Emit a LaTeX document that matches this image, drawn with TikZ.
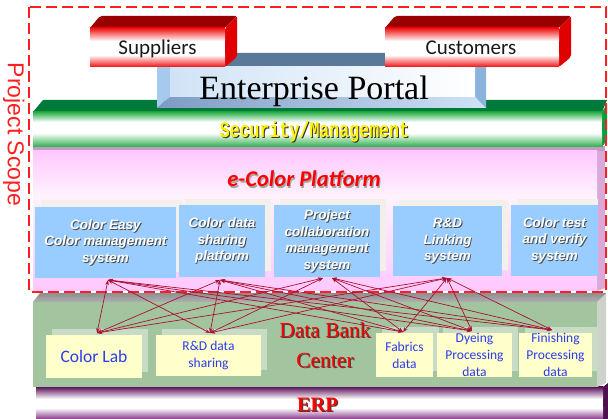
\documentclass[tikz,border=0pt]{standalone}
\usepackage{fontspec}
\usepackage{graphicx}
\usetikzlibrary{arrows.meta}
\newfontfamily\carlito{Carlito}
\newfontfamily\lserif{Liberation Serif}
\newfontfamily\lmono{Liberation Mono}
\newfontfamily\lsans{Liberation Sans}

\definecolor{scopered}{HTML}{FF1F1F}
\definecolor{boxred}{HTML}{F01010}
\definecolor{boxredtop}{HTML}{990000}
\definecolor{boxredside}{HTML}{E00000}
\definecolor{portaltop}{HTML}{5A7898}
\definecolor{portalleft}{HTML}{A6C9EE}
\definecolor{portalright}{HTML}{8AB3DE}
\definecolor{portalbottom}{HTML}{7D9BC3}
\definecolor{portalface}{HTML}{D0E3F7}
\definecolor{greentop}{HTML}{007A3A}
\definecolor{greenface}{HTML}{2AAE48}
\definecolor{greenside}{HTML}{00A040}
\definecolor{pinkface}{HTML}{FFC8FF}
\definecolor{pinklight}{HTML}{FFF2FD}
\definecolor{pinkband}{HTML}{C49AC4}
\definecolor{pinkside}{HTML}{D9AAD9}
\definecolor{appblue}{HTML}{99CCFF}
\definecolor{appback}{HTML}{F3EFEA}
\definecolor{bankgreen}{HTML}{A2C59F}
\definecolor{banktop}{HTML}{8E8E8E}
\definecolor{bankside}{HTML}{CDD3CB}
\definecolor{datayellow}{HTML}{FFFFCC}
\definecolor{databack}{HTML}{C8DBC5}
\definecolor{datablue}{HTML}{2B3BF0}
\definecolor{linkred}{HTML}{A8122E}
\definecolor{erpdark}{HTML}{5E145E}
\definecolor{erpface}{HTML}{8A3A8A}
\definecolor{erpside}{HTML}{4D0F4D}

\begin{document}
\begin{tikzpicture}[x=1pt,y=-1pt,
  link/.style={draw=linkred, line width=0.7pt,
    {Stealth[length=5pt,width=3.6pt]}-{Stealth[length=5pt,width=3.6pt]}},
  appbox/.style={fill=appblue, inner sep=0pt},
  apptext/.style={font=\lsans\bfseries\itshape\fontsize{13.5}{16.5}\selectfont,
    align=center, text=white, inner sep=0pt},
  appshade/.style={apptext, text=black!70, xshift=0.9pt, yshift=-0.9pt},
  databox/.style={fill=datayellow, inner sep=0pt, text=datablue, align=center,
    font=\carlito\fontsize{13.5}{17}\selectfont},
  redlabel/.style={anchor=base, text=black!90, font=\carlito\fontsize{21}{21}\selectfont},
]
\useasboundingbox (0,0) rectangle (608,419);
\fill[white] (0,0) rectangle (608,419);

% ---------- ERP layer ----------
\fill[erpside] (603,387) -- (608,383) -- (608,419) -- (603,419) -- cycle;
\fill[white] (36,387) rectangle (603,419);
\shade[top color=erpdark, bottom color=white] (36,387) rectangle (603,399);
\shade[top color=white, bottom color=erpface] (36,408) rectangle (603,419);

% ---------- Data bank layer ----------
\fill[bankside] (597,302) -- (606,293) -- (606,383) -- (597,387) -- cycle;
\shade[top color=banktop, bottom color=banktop!70] (33,302) -- (40,293) -- (606,293) -- (597,302) -- cycle;
\fill[bankgreen] (33,302) rectangle (597,387);

% data stores
\fill[databack] (52,329) rectangle (148,372);
\fill[databack] (162,329) rectangle (267,370);
\fill[databack] (382,327) rectangle (439,371);
\fill[databack] (443,327) rectangle (518,371);
\fill[databack] (525,327) rectangle (598,371);
\node[databox, minimum width=96pt, minimum height=43pt,
  font=\carlito\fontsize{17.5}{17.5}\selectfont] (lab) at (94,356.5) {Color Lab};
\node[databox, minimum width=105pt, minimum height=41pt] (rdshare) at (208.5,355.5) {R\&D data\\sharing};
\node[databox, minimum width=57pt, minimum height=44pt] (fabrics) at (404.5,355) {Fabrics\\data};
\node[databox, minimum width=75pt, minimum height=44pt] (dyeing) at (474.5,355) {Dyeing\\Processing\\data};
\node[databox, minimum width=73pt, minimum height=44pt] (finishing) at (555.5,355) {Finishing\\Processing\\data};

\node[align=center, text=black!75, font=\lserif\fontsize{21.5}{29.5}\selectfont,
  xshift=1pt, yshift=-1pt] (bank-shade) at (325,345) {Data Bank\\Center};
\node[align=center, text=red, font=\lserif\fontsize{21.5}{29.5}\selectfont] (bank) at (325,345) {Data Bank\\Center};

% ---------- e-Color platform layer ----------
\fill[pinkside] (597,151) -- (605,146) -- (605,288) -- (597,291) -- cycle;
\fill[pinkband] (33,146) rectangle (605,151);
\shade[top color=pinkface, bottom color=pinklight] (33,151) rectangle (597,196);
\shade[top color=pinklight, bottom color=pinkface] (33,196) rectangle (597,291);

\node[anchor=base, text=black!35, font=\carlito\bfseries\itshape\fontsize{22.5}{22.5}\selectfont,
  xshift=1.2pt, yshift=-1.2pt] (platform-shade) at (304,187) {e-Color Platform};
\node[anchor=base, text=red, font=\carlito\bfseries\itshape\fontsize{22.5}{22.5}\selectfont]
  (platform) at (304,187) {e-Color Platform};

% application systems
\fill[appback] (41,200) rectangle (182,272);
\fill[appback] (185,199) rectangle (271,271);
\fill[appback] (280,199) rectangle (386,271);
\fill[appback] (399,200) rectangle (508,270);
\fill[appback] (517,199) rectangle (598,270);
\node[appbox, minimum width=141pt, minimum height=71pt] (app1) at (105.5,242.5) {};
\node[appbox, minimum width=86pt, minimum height=72pt] (app2) at (222,241) {};
\node[appbox, minimum width=106pt, minimum height=72pt] (app3) at (327,241) {};
\node[appbox, minimum width=109pt, minimum height=70pt] (app4) at (447.5,241) {};
\node[appbox, minimum width=87pt, minimum height=71pt] (app5) at (554.5,240.5) {};

\node[appshade] (app1-shade) at (app1) {Color Easy\\Color management\\system};
\node[apptext] (app1-text) at (app1) {Color Easy\\Color management\\system};
\node[appshade] (app2-shade) at (app2) {Color data\\sharing\\platform};
\node[apptext] (app2-text) at (app2) {Color data\\sharing\\platform};
\node[appshade] (app3-shade) at (app3) {Project\\collaboration\\management\\system};
\node[apptext] (app3-text) at (app3) {Project\\collaboration\\management\\system};
\node[appshade] (app4-shade) at (app4) {R\&D\\Linking\\system};
\node[apptext] (app4-text) at (app4) {R\&D\\Linking\\system};
\node[appshade] (app5-shade) at (app5) {Color test\\and verify\\system};
\node[apptext] (app5-text) at (app5) {Color test\\and verify\\system};

% ---------- Security / management layer ----------
\fill[greenside] (602,112) -- (607,104) -- (607,140) -- (602,147) -- cycle;
\fill[greentop] (33,112) -- (43,100) -- (607,100) -- (602,112) -- cycle;
\fill[white] (33,112) rectangle (602,147);
\shade[top color=greenface, bottom color=white] (33,112) rectangle (602,122);
\shade[top color=white, bottom color=greenface] (33,133) rectangle (602,147);
\node[anchor=base, text=black!80, font=\lmono\bfseries\fontsize{16.6}{16.6}\selectfont,
  xshift=1pt, yshift=-1pt] (security-shade) at (314.5,138) {\scalebox{1}[1.35]{Security/Management}};
\node[anchor=base, text=yellow, font=\lmono\bfseries\fontsize{16.6}{16.6}\selectfont]
  (security) at (314.5,138) {\scalebox{1}[1.35]{Security/Management}};

% ---------- Enterprise portal ----------
\fill[portaltop] (157,53) -- (486,53) -- (475,67) -- (170,67) -- cycle;
\fill[portalleft] (157,53) -- (170,67) -- (170,97) -- (157,108) -- cycle;
\fill[portalright] (486,53) -- (486,108) -- (475,97) -- (475,67) -- cycle;
\shade[left color=portalbottom, right color=portalface] (157,108) -- (170,97) -- (475,97) -- (486,108) -- cycle;
\shade[left color=portalface, right color=white] (170,67) rectangle (475,97);
\node[anchor=base, text=black, font=\lserif\fontsize{34}{34}\selectfont] (portal) at (314,100) {Enterprise Portal};

% ---------- Suppliers / Customers ----------
\fill[boxredtop, rounded corners=2pt] (90,28) -- (100,16) -- (237,16) -- (225,28) -- cycle;
\fill[boxredside, rounded corners=2pt] (225,28) -- (237,16) -- (237,57) -- (225,67) -- cycle;
\fill[white] (90,28) rectangle (225,67);
\shade[top color=boxred, bottom color=white] (90,28) rectangle (225,41);
\shade[top color=white, bottom color=boxred] (90,55) rectangle (225,67);
\node[redlabel] (suppliers) at (157.5,55) {Suppliers};

\fill[boxredtop, rounded corners=2pt] (385,28) -- (395,16) -- (571,16) -- (559,28) -- cycle;
\fill[boxredside, rounded corners=2pt] (559,28) -- (571,16) -- (571,57) -- (559,67) -- cycle;
\fill[white] (385,28) rectangle (559,67);
\shade[top color=boxred, bottom color=white] (385,28) rectangle (559,41);
\shade[top color=white, bottom color=boxred] (385,55) rectangle (559,67);
\node[redlabel] (customers) at (471,55) {Customers};

% ---------- ERP label ----------
\node[anchor=base, text=black!75, font=\lserif\bfseries\fontsize{20.5}{20.5}\selectfont,
  xshift=1pt, yshift=-1pt] (erp-shade) at (317.5,412) {ERP};
\node[anchor=base, text=red, font=\lserif\bfseries\fontsize{20.5}{20.5}\selectfont]
  (erp) at (317.5,412) {ERP};

% ---------- project scope ----------
\draw[scopered, line width=2.4pt, dash pattern=on 11pt off 5pt] (29,7) rectangle (606,292);
\node[rotate=-90, anchor=base, text=scopered, font=\lsans\fontsize{23}{23}\selectfont]
  (scope) at (8,134.5) {Project Scope};

% ---------- links between systems and data stores ----------
\coordinate (t1) at (108,280);
\coordinate (t2) at (220,280);
\coordinate (t3a) at (323,278);
\coordinate (t3b) at (332,278);
\coordinate (t4) at (447,278);
\coordinate (b1) at (97,333);
\coordinate (b2) at (210,333);
\coordinate (b3) at (403,332);
\coordinate (b4) at (472,331);
\coordinate (b5) at (552,330);
\foreach \t in {t1,t2,t4}{
  \foreach \b in {b1,b2,b3,b4,b5}{
    \draw[link] (\t) -- (\b);
  }
}
\foreach \b in {b1,b2}{\draw[link] (t3a) -- (\b);}
\foreach \b in {b3,b4,b5}{\draw[link] (t3b) -- (\b);}
\end{tikzpicture}
\end{document}
